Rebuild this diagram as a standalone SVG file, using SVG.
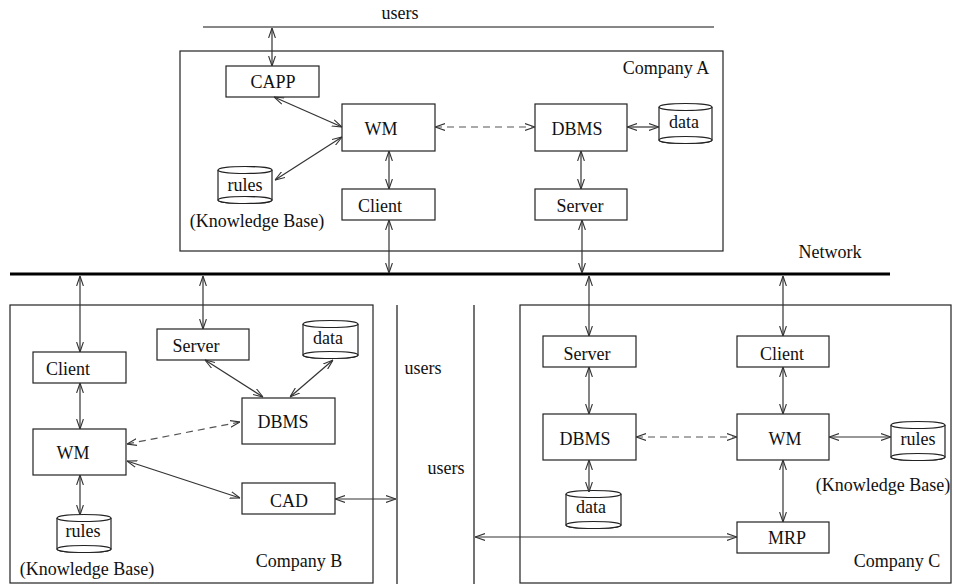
<svg xmlns="http://www.w3.org/2000/svg" width="953" height="584" viewBox="0 0 953 584">
  <style>
    text { font-family: "Liberation Serif", "Times New Roman", serif; font-size: 18px; fill: #111; }
    .c { text-anchor: middle; }
    .box { fill: #fff; stroke: #222; stroke-width: 1.2; }
    .frame { fill: none; stroke: #222; stroke-width: 1.2; }
    .cyl { fill: #fff; stroke: #222; stroke-width: 1.2; }
    .link { fill: none; stroke: #333; stroke-width: 1.2; marker-start: url(#ah); marker-end: url(#ah); }
    .dash { stroke-dasharray: 7 5; stroke: #555; }
    .users { stroke: #444; stroke-width: 1.5; fill: none; }
  </style>
  <defs>
    <marker id="ah" viewBox="0 0 10 8" refX="10" refY="4" markerWidth="10" markerHeight="8" markerUnits="userSpaceOnUse" orient="auto-start-reverse">
      <path d="M0,0.6 L10,4 L0,7.4" fill="none" stroke="#333" stroke-width="1.1"/>
    </marker>
  </defs>

  <!-- frames, shared lines and free labels -->
  <g id="frames">
    <line x1="203" y1="27" x2="714" y2="27" stroke="#111" stroke-width="1.2"/>
    <text class="c" x="400" y="19">users</text>
    <rect class="frame" x="180" y="51" width="543" height="200"/>
    <text class="c" x="666" y="74">Company A</text>
    <line x1="10" y1="274" x2="890" y2="274" stroke="#000" stroke-width="3.2"/>
    <text class="c" x="830" y="258">Network</text>
    <rect class="frame" x="10" y="305" width="363" height="278"/>
    <text class="c" x="299" y="567">Company B</text>
    <rect class="frame" x="520" y="305" width="431" height="278"/>
    <text class="c" x="897" y="567">Company C</text>
    <line class="users" x1="397" y1="305" x2="397" y2="584"/>
    <line class="users" x1="474" y1="305" x2="474" y2="584"/>
    <text class="c" x="423" y="374">users</text>
    <text class="c" x="446" y="474">users</text>
  </g>

  <!-- Company A -->
  <g id="a-capp"><rect class="box" x="226" y="66" width="93" height="31"/><text class="c" x="273" y="88">CAPP</text></g>
  <g id="a-wm"><rect class="box" x="342" y="104" width="93" height="47"/><text class="c" x="381" y="135">WM</text></g>
  <g id="a-dbms"><rect class="box" x="535" y="104" width="92" height="47"/><text class="c" x="577" y="135">DBMS</text></g>
  <g id="a-data">
    <path class="cyl" d="M659,107 V140 A26.5,3.5 0 0 0 712,140 V107"/>
    <ellipse class="cyl" cx="685.5" cy="107" rx="26.5" ry="3.5"/>
    <ellipse class="cyl" cx="685.5" cy="140" rx="26.5" ry="3.5" fill="none"/>
    <text class="c" x="684" y="128">data</text>
  </g>
  <g id="a-rules">
    <path class="cyl" d="M218,170 V200 A27,3.5 0 0 0 272,200 V170"/>
    <ellipse class="cyl" cx="245" cy="170" rx="27" ry="3.5"/>
    <ellipse class="cyl" cx="245" cy="200" rx="27" ry="3.5" fill="none"/>
    <text class="c" x="245" y="191">rules</text>
    <text class="c" x="257" y="227">(Knowledge Base)</text>
  </g>
  <g id="a-client"><rect class="box" x="342" y="189" width="93" height="31"/><text class="c" x="380" y="212">Client</text></g>
  <g id="a-server"><rect class="box" x="535" y="189" width="92" height="31"/><text class="c" x="580" y="212">Server</text></g>

  <!-- Company B -->
  <g id="b-client"><rect class="box" x="33" y="352" width="93" height="31"/><text class="c" x="68" y="375">Client</text></g>
  <g id="b-server"><rect class="box" x="157" y="329" width="92" height="31"/><text class="c" x="196" y="352">Server</text></g>
  <g id="b-data">
    <path class="cyl" d="M303,324 V355 A27.5,3.5 0 0 0 358,355 V324"/>
    <ellipse class="cyl" cx="330.5" cy="324" rx="27.5" ry="3.5"/>
    <ellipse class="cyl" cx="330.5" cy="355" rx="27.5" ry="3.5" fill="none"/>
    <text class="c" x="328" y="344">data</text>
  </g>
  <g id="b-dbms"><rect class="box" x="242" y="398" width="93" height="46"/><text class="c" x="283" y="428">DBMS</text></g>
  <g id="b-wm"><rect class="box" x="33" y="429" width="93" height="46"/><text class="c" x="73" y="459">WM</text></g>
  <g id="b-cad"><rect class="box" x="242" y="483" width="93" height="31"/><text class="c" x="289" y="507">CAD</text></g>
  <g id="b-rules">
    <path class="cyl" d="M57,518 V549 A27,3.5 0 0 0 111,549 V518"/>
    <ellipse class="cyl" cx="84" cy="518" rx="27" ry="3.5"/>
    <ellipse class="cyl" cx="84" cy="549" rx="27" ry="3.5" fill="none"/>
    <text class="c" x="83" y="537">rules</text>
    <text class="c" x="87" y="575">(Knowledge Base)</text>
  </g>

  <!-- Company C -->
  <g id="c-server"><rect class="box" x="543" y="336" width="93" height="31"/><text class="c" x="587" y="360">Server</text></g>
  <g id="c-client"><rect class="box" x="737" y="336" width="92" height="31"/><text class="c" x="782" y="360">Client</text></g>
  <g id="c-dbms"><rect class="box" x="543" y="414" width="93" height="46"/><text class="c" x="585" y="445">DBMS</text></g>
  <g id="c-wm"><rect class="box" x="737" y="414" width="92" height="46"/><text class="c" x="785" y="445">WM</text></g>
  <g id="c-rules">
    <path class="cyl" d="M891,425 V457 A27,3.5 0 0 0 945,457 V425"/>
    <ellipse class="cyl" cx="918" cy="425" rx="27" ry="3.5"/>
    <ellipse class="cyl" cx="918" cy="457" rx="27" ry="3.5" fill="none"/>
    <text class="c" x="918" y="445">rules</text>
    <text class="c" x="883" y="491">(Knowledge Base)</text>
  </g>
  <g id="c-data">
    <path class="cyl" d="M566,494 V525 A27.5,3.5 0 0 0 621,525 V494"/>
    <ellipse class="cyl" cx="593.5" cy="494" rx="27.5" ry="3.5"/>
    <ellipse class="cyl" cx="593.5" cy="525" rx="27.5" ry="3.5" fill="none"/>
    <text class="c" x="591" y="513">data</text>
  </g>
  <g id="c-mrp"><rect class="box" x="737" y="522" width="92" height="31"/><text class="c" x="787" y="544">MRP</text></g>

  <!-- connectors -->
  <g id="connectors">
    <!-- Company A -->
    <line class="link" x1="272" y1="28" x2="272" y2="66"/>
    <line class="link" x1="274" y1="97" x2="342" y2="127"/>
    <line class="link" x1="342" y1="137" x2="275" y2="180"/>
    <line class="link dash" x1="435" y1="127" x2="535" y2="127"/>
    <line class="link" x1="627" y1="127" x2="659" y2="127"/>
    <line class="link" x1="389" y1="151" x2="389" y2="189"/>
    <line class="link" x1="581" y1="151" x2="581" y2="189"/>
    <line class="link" x1="389" y1="220" x2="389" y2="273"/>
    <line class="link" x1="582" y1="220" x2="582" y2="273"/>
    <!-- Company B -->
    <line class="link" x1="80" y1="276" x2="80" y2="352"/>
    <line class="link" x1="203" y1="276" x2="203" y2="329"/>
    <line class="link" x1="80" y1="383" x2="80" y2="429"/>
    <line class="link" x1="80" y1="475" x2="80" y2="515"/>
    <line class="link" x1="205" y1="360" x2="263" y2="397"/>
    <line class="link" x1="333" y1="360" x2="290" y2="397"/>
    <line class="link dash" x1="240" y1="422" x2="127" y2="444"/>
    <line class="link" x1="127" y1="461" x2="240" y2="498"/>
    <line class="link" x1="335" y1="499" x2="396" y2="499"/>
    <!-- Company C -->
    <line class="link" x1="589" y1="276" x2="589" y2="336"/>
    <line class="link" x1="783" y1="276" x2="783" y2="336"/>
    <line class="link" x1="589" y1="367" x2="589" y2="414"/>
    <line class="link" x1="783" y1="367" x2="783" y2="414"/>
    <line class="link" x1="589" y1="460" x2="589" y2="492"/>
    <line class="link" x1="783" y1="460" x2="783" y2="522"/>
    <line class="link" x1="829" y1="437" x2="891" y2="437"/>
    <line class="link dash" x1="636" y1="437" x2="737" y2="437"/>
    <line class="link" x1="475" y1="537" x2="737" y2="537"/>
  </g>
</svg>
